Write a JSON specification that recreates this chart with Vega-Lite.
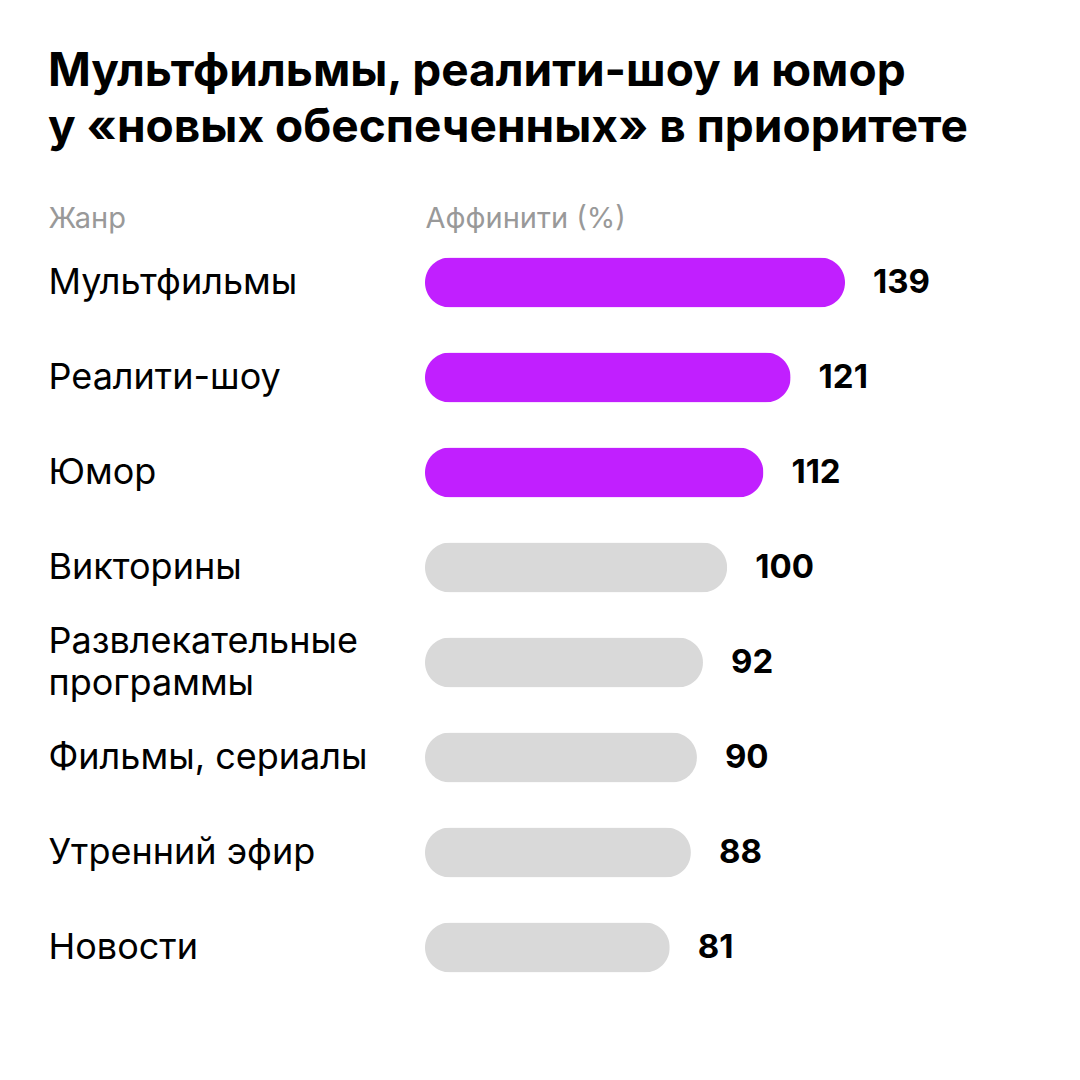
{
  "$schema": "https://vega.github.io/schema/vega-lite/v6.json",
  "autosize": {"type": "none"},
  "padding": {"left": 425, "top": 235, "right": 0, "bottom": 85},
  "width": 655,
  "height": 760,
  "background": "#FFFFFF",
  "title": {
    "text": ["Мультфильмы, реалити-шоу и юмор", "у «новых обеспеченных» в приоритете"],
    "anchor": "start",
    "frame": "bounds",
    "font": "Inter",
    "fontSize": 46,
    "fontWeight": "bold",
    "color": "#000000",
    "lineHeight": 56,
    "offset": 52
  },
  "data": {
    "values": [
      {"genre": "Мультфильмы", "affinity": 139},
      {"genre": "Реалити-шоу", "affinity": 121},
      {"genre": "Юмор", "affinity": 112},
      {"genre": "Викторины", "affinity": 100},
      {"genre": "Развлекательные программы", "affinity": 92},
      {"genre": "Фильмы, сериалы", "affinity": 90},
      {"genre": "Утренний эфир", "affinity": 88},
      {"genre": "Новости", "affinity": 81}
    ]
  },
  "encoding": {
    "y": {
      "field": "genre",
      "type": "nominal",
      "sort": null,
      "scale": {"padding": 0},
      "axis": {
        "title": "Жанр",
        "titleAngle": 0,
        "titleX": -377,
        "titleY": -17,
        "titleAlign": "left",
        "titleBaseline": "middle",
        "titleFont": "Inter",
        "titleFontSize": 29,
        "titleFontWeight": "normal",
        "titleColor": "#999999",
        "domain": false,
        "ticks": false,
        "grid": false,
        "labelAlign": "left",
        "labelBaseline": "middle",
        "labelPadding": 377,
        "labelFont": "Inter",
        "labelFontSize": 36,
        "labelColor": "#000000",
        "labelLineHeight": 42,
        "labelLimit": 400,
        "labelOffset": {
          "condition": {"test": "datum.value == 'Развлекательные программы'", "value": -21},
          "value": 0
        },
        "labelExpr": "datum.value == 'Развлекательные программы' ? ['Развлекательные', 'программы'] : datum.value"
      }
    },
    "x": {
      "field": "affinity",
      "type": "quantitative",
      "scale": {"domain": [0, 139], "range": [0, 420], "nice": false},
      "axis": {
        "orient": "top",
        "title": "Аффинити (%)",
        "titleX": 0,
        "titleY": -17,
        "titleAlign": "left",
        "titleAnchor": "start",
        "titleBaseline": "middle",
        "titleFont": "Inter",
        "titleFontSize": 29,
        "titleFontWeight": "normal",
        "titleColor": "#999999",
        "labels": false,
        "ticks": false,
        "domain": false,
        "grid": false
      }
    }
  },
  "layer": [
    {
      "mark": {"type": "bar", "size": 50, "cornerRadius": 25},
      "encoding": {
        "color": {
          "condition": {"test": "datum.affinity > 100", "value": "#C11FFF"},
          "value": "#D9D9D9"
        }
      }
    },
    {
      "mark": {
        "type": "text",
        "align": "left",
        "baseline": "middle",
        "dx": 28,
        "font": "Inter",
        "fontSize": 33,
        "fontWeight": "bold",
        "color": "#000000"
      },
      "encoding": {"text": {"field": "affinity", "type": "quantitative"}}
    }
  ],
  "config": {"view": {"stroke": null}}
}
